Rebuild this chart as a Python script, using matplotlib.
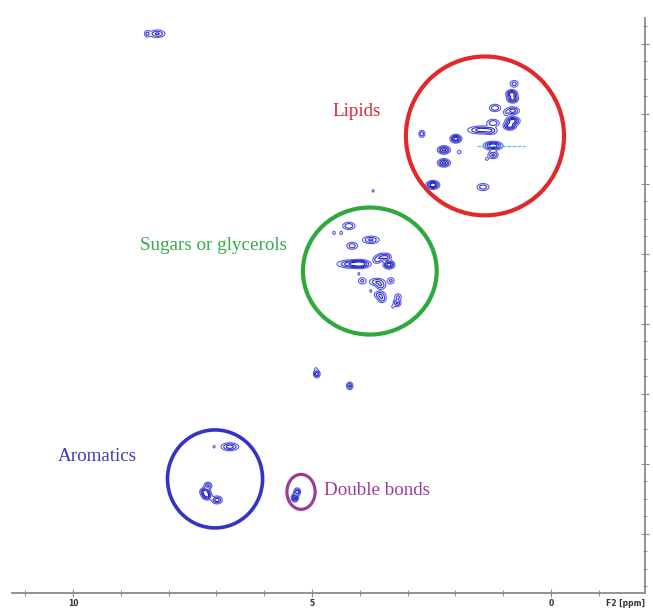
import numpy as np
import matplotlib
matplotlib.use("Agg")
import matplotlib.pyplot as plt
from matplotlib.patches import Ellipse

# ---------------- data (F2 = 1H ppm, F1 = 13C ppm) ----------------
# lipid region peaks
lip_x = [0.77, 0.82, 0.80, 1.17, 0.80, 0.94, 0.80, 0.86, 1.21, 1.46, 1.26, 2.70, 1.99, 1.21, 2.24, 1.92, 1.21, 1.34, 2.24, 2.47, 1.42]
lip_y = [11.4, 14.3, 15.7, 18.3, 19.1, 19.7, 22.0, 23.4, 22.6, 24.6, 24.9, 25.7, 27.1, 29.1, 30.3, 30.9, 31.7, 32.9, 34.0, 40.3, 40.9]
lip_i = [0.35, 0.9, 0.8, 0.45, 0.6, 0.2, 0.9, 0.9, 0.45, 0.6, 0.3, 0.4, 0.9, 1.0, 0.8, 0.2, 0.5, 0.15, 0.8, 1.0, 0.4]
lip_w = [0.07, 0.08, 0.08, 0.09, 0.1, 0.05, 0.1, 0.09, 0.1, 0.2, 0.1, 0.05, 0.08, 0.13, 0.09, 0.04, 0.08, 0.04, 0.09, 0.09, 0.1]

# sugar / glycerol region peaks
sug_x = [4.23, 4.54, 4.39, 4.16, 3.77, 3.54, 3.43, 3.39, 3.64, 4.14, 3.97, 4.02, 3.95, 3.64, 3.56, 3.35, 3.77, 3.58, 3.54, 3.20, 3.22, 3.31, 3.72]
sug_y = [52.0, 54.0, 54.0, 57.7, 56.0, 60.9, 60.9, 63.1, 61.7, 62.9, 62.9, 65.7, 67.7, 68.0, 69.1, 67.7, 70.6, 71.7, 72.9, 72.3, 74.0, 75.1, 42.0]
sug_i = [0.45, 0.2, 0.2, 0.4, 0.5, 0.45, 0.4, 0.9, 0.35, 0.8, 0.6, 0.15, 0.3, 0.45, 0.4, 0.3, 0.15, 0.45, 0.4, 0.3, 0.5, 0.15, 0.15]
sug_w = [0.1, 0.03, 0.03, 0.09, 0.13, 0.09, 0.07, 0.08, 0.07, 0.22, 0.12, 0.03, 0.07, 0.12, 0.08, 0.06, 0.03, 0.09, 0.07, 0.06, 0.06, 0.03, 0.03]

# isolated peaks
iso_x = [4.90, 4.92, 4.21, 8.24, 8.45]
iso_y = [94.3, 92.9, 97.7, -2.9, -2.9]
iso_i = [0.6, 0.15, 0.5, 0.5, 0.3]
iso_w = [0.05, 0.03, 0.05, 0.12, 0.05]

# aromatic peaks
aro_x = [6.72, 7.05, 7.18, 7.24, 7.20, 6.99]
aro_y = [115.1, 115.1, 126.3, 128.0, 129.1, 130.3]
aro_i = [0.6, 0.15, 0.5, 0.9, 0.8, 0.6]
aro_w = [0.13, 0.03, 0.06, 0.07, 0.07, 0.08]

# double-bond peaks
dbl_x = [5.31, 5.36]
dbl_y = [128.0, 129.7]
dbl_i = [0.6, 0.8]
dbl_w = [0.05, 0.05]

# region circles: centre x, centre y, width (ppm), height (ppm)
reg_names = ["Lipids", "Sugars or glycerols", "Aromatics", "Double bonds"]
reg_cx = [1.38, 3.79, 7.03, 5.23]
reg_cy = [26.3, 64.9, 124.3, 128.0]
reg_w = [3.31, 2.80, 1.99, 0.59]
reg_h = [45.4, 36.3, 28.0, 10.0]
reg_colors = ["#e02a2a", "#2fa83c", "#3333c8", "#9a3d98"]
reg_lw = [3.0, 3.0, 2.6, 2.3]
lab_x = [4.06, 7.07, 9.50, 3.64]
lab_y = [19.4, 57.7, 118.0, 127.7]
lab_colors = ["#d8263c", "#33aa44", "#3a3ac0", "#9a3d98"]

# streak through strong lipid peak
streak_x = [1.55, 0.54]
streak_y = [29.1, 29.1]

x_major = [10, 5, 0]
x_labels = ["10", "5", "0"]

# ---------------- figure ----------------
W, H = 653, 608
fig = plt.figure(figsize=(W / 100, H / 100), dpi=100)
ax = fig.add_axes([12 / W, (H - 593) / H, 633 / W, 575 / H])
ax.set_xlim(11.28, -1.97)
ax.set_ylim(156.9, -7.4)

# peaks as contours
xs = np.linspace(11.28, -1.97, 1000)
ys = np.linspace(-7.4, 156.9, 900)
X, Y = np.meshgrid(xs, ys)
Z = np.zeros_like(X)
px = lip_x + sug_x + iso_x + aro_x + dbl_x
py = lip_y + sug_y + iso_y + aro_y + dbl_y
pi_ = lip_i + sug_i + iso_i + aro_i + dbl_i
pw = lip_w + sug_w + iso_w + aro_w + dbl_w
for x0, y0, a, w in zip(px, py, pi_, pw):
    sy = 0.6 if w > 0.04 else 0.4
    Z += a * np.exp(-0.5 * ((X - x0) / (w * 0.75)) ** 2 - 0.5 * ((Y - y0) / sy) ** 2)

levels = [0.1, 0.25, 0.45, 0.7]
cols = ["#5a5ae0", "#3535d4", "#2424c8", "#1818b8"]
ax.contour(X, Y, Z, levels=levels, colors=cols, linewidths=0.8)

ax.plot(streak_x, streak_y, color="#44bbcc", lw=0.9, ls=(0, (3, 1)), alpha=0.9)

# circles and labels
for cx, cy, w, h, c, lw in zip(reg_cx, reg_cy, reg_w, reg_h, reg_colors, reg_lw):
    ax.add_patch(Ellipse((cx, cy), w, h, fill=False, edgecolor=c, lw=lw))
for name, tx, ty, c in zip(reg_names, lab_x, lab_y, lab_colors):
    ax.text(tx, ty, name, color=c, fontsize=13.7, family="Liberation Serif",
            ha="center", va="center")

# axes styling
for s in ["top", "left"]:
    ax.spines[s].set_visible(False)
for s in ["bottom", "right"]:
    ax.spines[s].set_color("#8a8a8a")
    ax.spines[s].set_linewidth(1.3)

ax.set_xticks(x_major)
ax.set_xticklabels(x_labels)
ax.set_xticks(np.arange(-1, 12, 1), minor=True)
ax.tick_params(axis="x", which="major", direction="inout", length=6, width=0.8,
               colors="#8a8a8a", labelcolor="#333333", labelsize=5.5, pad=1)
ax.tick_params(axis="x", which="minor", direction="inout", length=4, width=0.7, colors="#8a8a8a")
for lbl in ax.get_xticklabels():
    lbl.set_fontweight("bold")

ax.yaxis.tick_right()
ax.set_yticks(np.arange(0, 160, 20))
ax.set_yticks(np.arange(-5, 157, 5), minor=True)
ax.set_yticklabels([])
ax.tick_params(axis="y", which="major", direction="inout", length=6, width=0.8, colors="#8a8a8a")
ax.tick_params(axis="y", which="minor", direction="inout", length=3.5, width=0.7, colors="#8a8a8a")

fig.text(626 / W, 1 - 604 / H, "F2 [ppm]", fontsize=5.5, fontweight="bold",
         color="#333333", ha="center", va="center")

fig.savefig("out.png", dpi=100)
